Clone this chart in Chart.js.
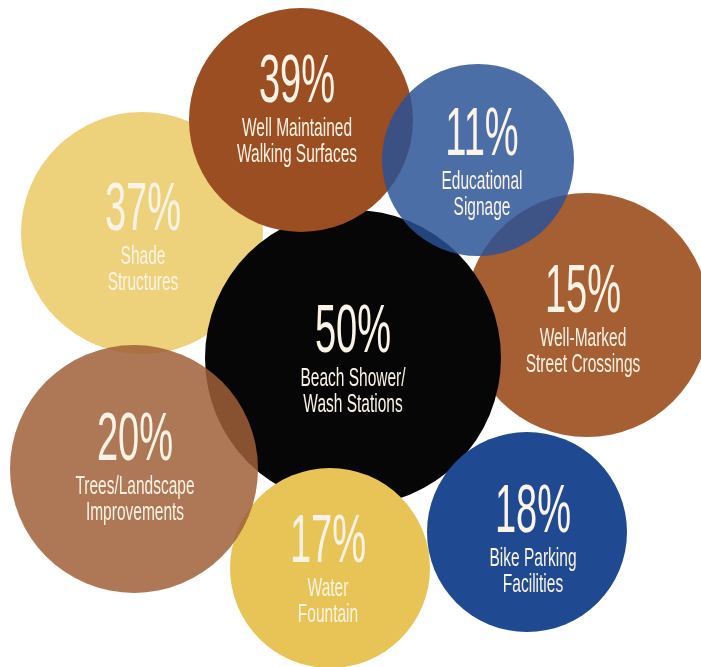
<!DOCTYPE html>
<html>
<head>
<meta charset="utf-8">
<script src="https://cdn.jsdelivr.net/npm/chart.js@4.4.1/dist/chart.umd.min.js"></script>
<style>
  html, body { margin: 0; padding: 0; background: #fff; }
  #wrap { width: 701px; height: 667px; position: relative; }
</style>
</head>
<body>
<div id="wrap"><canvas id="bubble-chart"></canvas></div>
<script>
// Survey answers, listed back to front (later bubbles sit on top)
const categories = [
  ["Shade", "Structures"],
  ["Well-Marked", "Street Crossings"],
  ["Beach Shower/", "Wash Stations"],
  ["Well Maintained", "Walking Surfaces"],
  ["Water", "Fountain"],
  ["Bike Parking", "Facilities"],
  ["Trees/Landscape", "Improvements"],
  ["Educational", "Signage"]
];
const percents = [37, 15, 50, 39, 17, 18, 20, 11];

// Bubble layout values on a 701 x 667 grid
const bubbleX = [142, 587, 353, 301, 330, 527, 134, 478];
const bubbleY = [233, 315, 358, 120, 568, 532, 469, 160];
const bubbleR = [121, 122, 148, 112, 100, 100, 124, 96];

// Where each block of text starts (baseline of the big number)
const textX = [143, 583, 353, 297, 328, 533, 135, 482];
const textY = [230, 312, 352, 102, 562, 532, 460, 155];

const colors = [
  "#edd27b",
  "#a65e33",
  "#060606",
  "#9a4e22",
  "#e8c457",
  "#1f4a91",
  "rgba(160, 96, 58, 0.85)",
  "rgba(42, 82, 150, 0.84)"
];

// Futura-like condensed look: squeeze a regular sans horizontally
function drawNarrow(ctx, text, x, y, font, squeeze) {
  ctx.save();
  ctx.font = font;
  ctx.translate(x, y);
  ctx.scale(squeeze, 1);
  ctx.fillText(text, 0, 0);
  ctx.restore();
}

const bubbleText = {
  id: "bubbleText",
  afterDatasetsDraw(chart) {
    const { ctx, scales } = chart;
    ctx.save();
    ctx.fillStyle = "#fbf4e6";
    ctx.textAlign = "center";
    ctx.textBaseline = "alphabetic";
    categories.forEach((lines, i) => {
      const x = scales.x.getPixelForValue(textX[i]);
      const y = scales.y.getPixelForValue(textY[i]);
      drawNarrow(ctx, `${percents[i]}%`, x, y, "68px 'Liberation Sans'", 0.56);
      lines.forEach((line, j) => {
        drawNarrow(ctx, line, x, y + 34 + j * 26, "25px 'Liberation Sans'", 0.62);
      });
    });
    ctx.restore();
  }
};

const ctx = document.getElementById("bubble-chart").getContext("2d");

new Chart(ctx, {
  type: "bubble",
  data: {
    datasets: [{
      data: bubbleX.map((x, i) => ({ x, y: bubbleY[i], r: bubbleR[i] })),
      backgroundColor: colors,
      borderWidth: 0,
      hoverRadius: 0,
      clip: false
    }]
  },
  options: {
    responsive: true,
    maintainAspectRatio: false,
    animation: false,
    events: [],
    layout: { padding: 0, autoPadding: false },
    plugins: {
      legend: { display: false },
      tooltip: { enabled: false }
    },
    scales: {
      x: { type: "linear", min: 0, max: 701, display: false },
      y: { type: "linear", min: 0, max: 667, reverse: true, display: false }
    }
  },
  plugins: [bubbleText]
});
</script>
</body>
</html>
